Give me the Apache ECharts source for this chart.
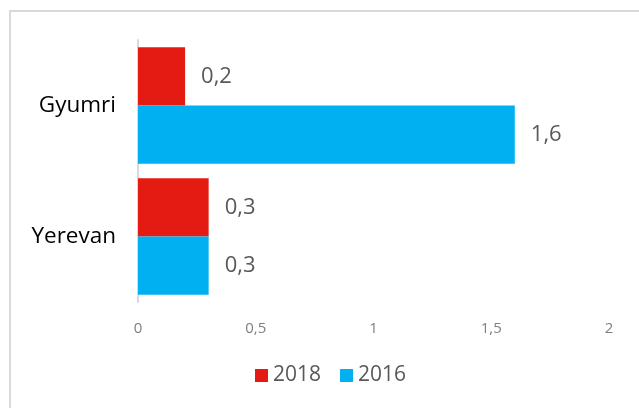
<!DOCTYPE html>
<html>
<head>
<meta charset="utf-8">
<script src="https://cdn.jsdelivr.net/npm/echarts@6/dist/echarts.min.js"></script>
<style>
  html, body { margin: 0; padding: 0; background: #fff; }
  #chart { width: 639px; height: 408px; }
</style>
</head>
<body>
<div id="chart"></div>
<script>
// Cities, top to bottom
const cities = ['Gyumri', 'Yerevan'];
const values2018 = [0.2, 0.3];
const values2016 = [1.6, 0.3];
const axisTicks = [0, 0.5, 1, 1.5, 2];

const FONT = 'Open Sans';
const fmt = v => String(v).replace('.', ',');

const chart = echarts.init(document.getElementById('chart'), null, { renderer: 'canvas' });

const valueLabel = {
  show: true, position: 'right', distance: 16,
  fontFamily: FONT, fontSize: 22, color: '#595959',
  formatter: p => fmt(p.value)
};

chart.setOption({
  animation: false,
  backgroundColor: '#fff',
  textStyle: { fontFamily: FONT },
  graphic: [{
    type: 'rect',
    shape: { x: 10, y: 11, width: 700, height: 500 },
    style: { fill: 'none', stroke: '#d9d9d9', lineWidth: 2 },
    silent: true
  }],
  grid: { left: 138, right: 30, top: 40, bottom: 106, containLabel: false },
  legend: {
    data: ['2018', '2016'],
    bottom: 17,
    left: 250,
    itemWidth: 13,
    itemHeight: 13,
    itemGap: 19,
    icon: 'rect',
    textStyle: { fontFamily: FONT, fontSize: 21, color: '#595959' }
  },
  xAxis: {
    type: 'value',
    min: axisTicks[0],
    max: axisTicks[axisTicks.length - 1],
    interval: axisTicks[1] - axisTicks[0],
    axisLine: { show: false },
    axisTick: { show: false },
    splitLine: { show: false },
    axisLabel: {
      margin: 19,
      fontFamily: FONT,
      fontSize: 15,
      color: '#7f7f7f',
      formatter: v => fmt(v)
    }
  },
  yAxis: {
    type: 'category',
    data: cities,
    inverse: true,
    axisLine: { show: true, lineStyle: { color: '#d9d9d9', width: 2 } },
    axisTick: { show: false },
    axisLabel: { margin: 22, fontFamily: FONT, fontSize: 22.5, color: '#000' }
  },
  series: [
    {
      name: '2018',
      type: 'bar',
      data: values2018,
      barGap: '0%',
      barCategoryGap: '11%',
      itemStyle: { color: '#e31b12' },
      label: valueLabel
    },
    {
      name: '2016',
      type: 'bar',
      data: values2016,
      barGap: '0%',
      barCategoryGap: '11%',
      itemStyle: { color: '#00b0f0' },
      label: valueLabel
    }
  ]
});
</script>
</body>
</html>
